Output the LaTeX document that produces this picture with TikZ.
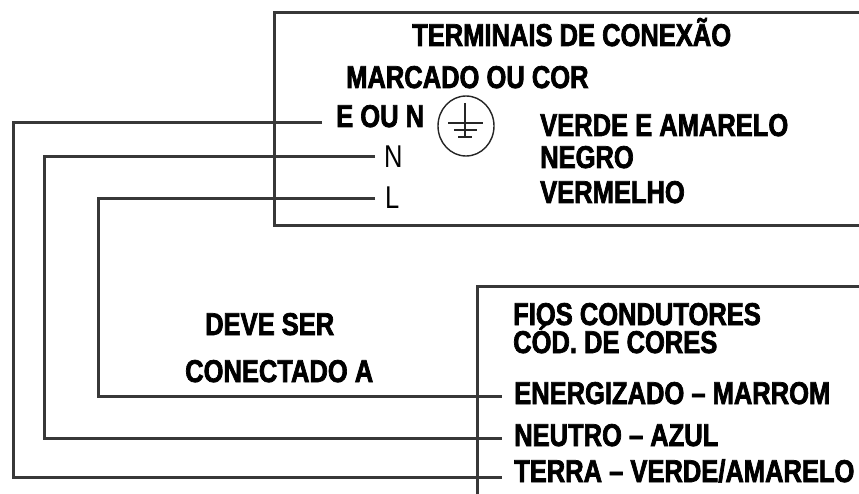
\documentclass[tikz,border=0pt]{standalone}
\usepackage{fontspec}
\usepackage{tikz}
\setmainfont{Liberation Sans}[FakeStretch=0.81,BoldFeatures={FakeBold=2.2}]

\begin{document}
\begin{tikzpicture}[x=1pt,y=-1pt,
	fio/.style={line width=3pt,black!78},
	rotulo/.style={anchor=base west,inner sep=0pt,font=\fontsize{31.5}{33}\selectfont\bfseries},
	fino/.style={anchor=base west,inner sep=0pt,font=\fontsize{31.5}{33}\selectfont}]
			\useasboundingbox (0,0) rectangle (859,494);
			% Vẽ khung
			\draw [fio] (859,13) -- (274,13) -- (274,226) -- (859,226);
			\draw [fio] (859,287) -- (477,287) -- (477,494);
			% Chữ khung trên
			\node [rotulo] (titulo) at (412,46) {TERMINAIS DE CONEXÃO};
			\node [rotulo] (marcado) at (346,88) {MARCADO OU COR};
			\node [rotulo] (eoun) at (336,127) {E OU N};
			\node [fino] (n) at (384,168) {N};
			\node [fino] (l) at (385,209) {L};
			\node [rotulo] (verde) at (540,136) {VERDE E AMARELO};
			\node [rotulo] (negro) at (540,168) {NEGRO};
			\node [rotulo] (vermelho) at (540,203) {VERMELHO};
			% Ký hiệu tiếp đất
			\draw [line width=1.4pt,black!85] (466,126) ellipse [x radius=28pt,y radius=30pt];
			\draw [line width=1.4pt,black!85] (465,103) -- (465,137)
				(448,123) -- (483,123) (454,130) -- (477,130) (458,137) -- (472,137);
			% Chữ khung dưới
			\node [rotulo] (deve) at (205,335) {DEVE SER};
			\node [rotulo] (conectado) at (185,382) {CONECTADO A};
			\node [rotulo] (fios) at (513,325) {FIOS CONDUTORES};
			\node [rotulo] (cod) at (513,353) {CÓD. DE CORES};
			\node [rotulo] (energ) at (514,404) {ENERGIZADO – MARROM};
			\node [rotulo] (neutro) at (514,446) {NEUTRO – AZUL};
			\node [rotulo] (terra) at (514,482) {TERRA – VERDE/AMARELO};
			% Vẽ dây nối
			\foreach \n/\xa/\ya/\xc/\yb in {E/322/123/13/477,N/375/157/44/438,L/375/199/98/396}{
			\coordinate (t\n) at (\xa,\ya);
			\coordinate (c\n) at (\xc,\yb);
			\coordinate (b\n) at (502,\yb);
			\draw [fio] (t\n) -| (c\n) -- (b\n);
			}
		\end{tikzpicture}
\end{document}
